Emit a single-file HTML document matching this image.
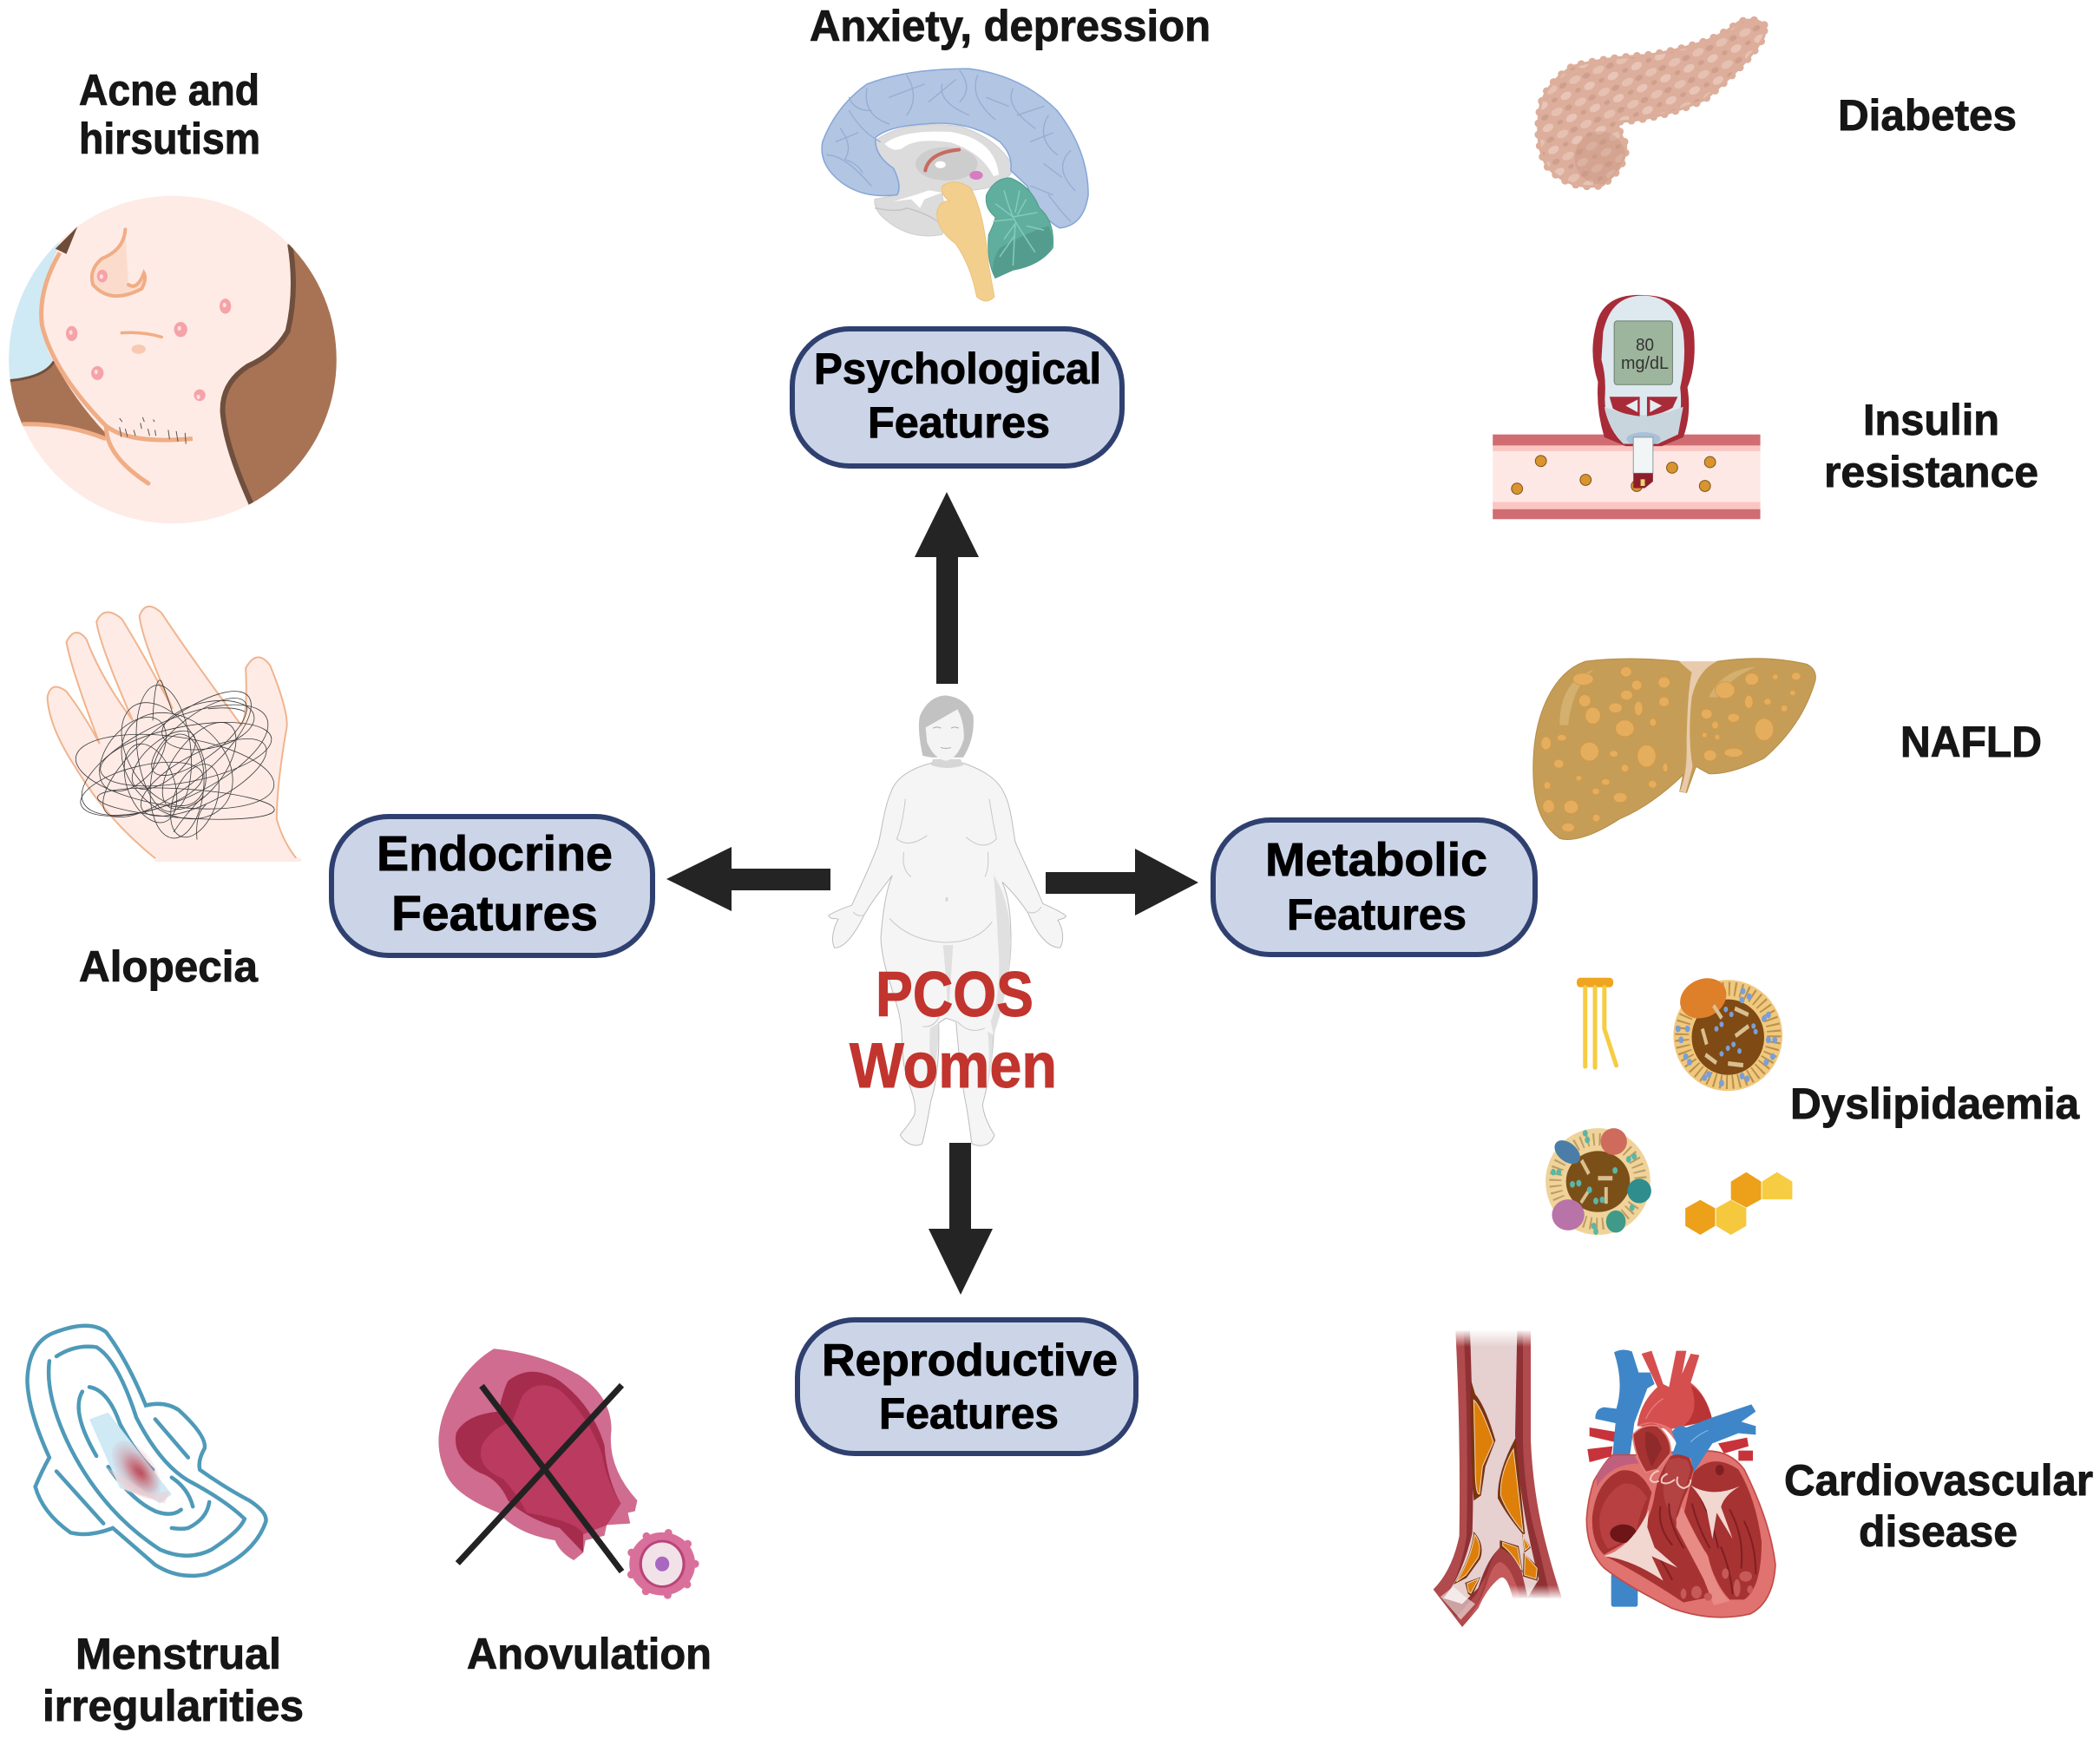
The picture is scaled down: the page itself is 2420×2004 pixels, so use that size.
<!DOCTYPE html>
<html><head><meta charset="utf-8"><title>PCOS Women features</title>
<style>
html,body{margin:0;padding:0;background:#fff}
svg{display:block}
text{font-family:"Liberation Sans",Arial,sans-serif;font-weight:700}
.l{font-size:50px;fill:#161616;stroke:#161616;stroke-width:.9px}
.b{fill:#000;stroke:#000;stroke-width:.9px}
.p{fill:#c1352e;stroke:#c1352e;stroke-width:1px}
.n *{vector-effect:non-scaling-stroke}
</style></head><body>
<svg width="2420" height="2004" viewBox="0 0 2420 2004" xmlns="http://www.w3.org/2000/svg">
<defs>
<clipPath id="cf"><ellipse cx="390" cy="619" rx="370" ry="282"/></clipPath>
<linearGradient id="fadeTop" x1="0" y1="0" x2="0" y2="1"><stop offset="0" stop-color="#fff" stop-opacity="1"/><stop offset="1" stop-color="#fff" stop-opacity="0"/></linearGradient>
<linearGradient id="fadeBot" x1="0" y1="0" x2="0" y2="1"><stop offset="0" stop-color="#fff" stop-opacity="0"/><stop offset="1" stop-color="#fff" stop-opacity="1"/></linearGradient>
<radialGradient id="blood"><stop offset="0" stop-color="#b8404f" stop-opacity=".8"/><stop offset="1" stop-color="#d88a92" stop-opacity=".08"/></radialGradient>
<pattern id="bumps" width="58" height="42" patternUnits="userSpaceOnUse" patternTransform="rotate(-18)">
<rect width="58" height="42" fill="#dcae9b"/>
<ellipse cx="14" cy="10" rx="13" ry="7" fill="#e8c5b6"/><ellipse cx="43" cy="31" rx="14" ry="7" fill="#e6c0b0"/><ellipse cx="44" cy="9" rx="7" ry="4" fill="#cf9f8d"/><ellipse cx="13" cy="32" rx="9" ry="5" fill="#cf9f8d"/>
</pattern>
<clipPath id="pc"><path d="M780 45Q760 30 720 40Q690 60 640 75Q560 95 500 100Q400 105 330 120Q270 150 255 190Q240 260 270 300Q320 345 400 335Q460 300 455 260Q430 225 440 220Q540 215 640 180Q750 110 780 65Z"/></clipPath>
</defs>
<rect width="2420" height="2004" fill="#fff"/>

<!-- ACNE + HAND -->
<g class="n" transform="scale(.5102,.6696)">
<ellipse cx="390" cy="619" rx="370" ry="282" fill="#feebe6"/>
<g clip-path="url(#cf)">
<path d="M135 420Q85 500 95 560Q105 610 122 622Q100 645 20 655L0 655L0 380Z" fill="#cfe9f5"/>
<path d="M20 655Q100 650 122 622Q170 690 238 745L238 758Q150 730 50 730L15 725Z" fill="#a87355"/>
<path d="M20 655Q100 650 122 622" fill="none" stroke="#6f4f3d" stroke-width="3"/>
<path d="M125 428L175 390L150 437Z" fill="#6e4c3a"/>
<path d="M655 420Q672 500 650 570Q620 610 560 630Q500 660 503 710Q510 770 568 868L800 910L800 380Z" fill="#a87355"/>
<path d="M655 420Q672 500 650 570Q620 610 560 630Q500 660 503 710Q510 770 568 868" fill="none" stroke="#6f4f3d" stroke-width="6"/>
<path d="M135 435Q85 500 95 560Q120 640 238 732Q290 765 435 755" fill="none" stroke="#f0ad85" stroke-width="5"/>
<path d="M240 735Q240 785 335 832" fill="none" stroke="#f0ad85" stroke-width="5" stroke-linecap="round"/>
<path d="M50 730Q150 728 238 755" fill="none" stroke="#f0ad85" stroke-width="5"/>
</g>
<path d="M283 395Q280 430 230 445Q200 465 210 490Q250 525 320 497Q332 480 325 470Q310 500 290 490" fill="#fbdccc" stroke="#f0ad85" stroke-width="4" stroke-linecap="round"/>
<path d="M275 573Q320 570 365 580" fill="none" stroke="#f0ad85" stroke-width="3.5" stroke-linecap="round"/>
<ellipse cx="313" cy="601" rx="16" ry="8" fill="#f8c9b0"/>
<g fill="#f5a3a8"><ellipse cx="231" cy="475" rx="12" ry="11"/><ellipse cx="509" cy="527" rx="13" ry="13"/><ellipse cx="408" cy="567" rx="15" ry="13"/><ellipse cx="162" cy="574" rx="13" ry="13"/><ellipse cx="220" cy="642" rx="14" ry="12"/><ellipse cx="451" cy="680" rx="13" ry="10"/></g>
<g fill="#fde0e0"><circle cx="229" cy="476" r="4"/><circle cx="507" cy="525" r="4"/><circle cx="405" cy="565" r="4"/><circle cx="160" cy="572" r="4"/><circle cx="217" cy="640" r="4"/><circle cx="448" cy="683" r="4"/></g>
<g stroke="#555" stroke-width="1" fill="none"><path d="M270 735L274 752M283 738L288 752M302 740L306 750M317 728L320 738M334 738L338 750M322 718L326 726M346 722L349 726M350 740L352 750M270 720L276 726M380 740L383 756M398 742L402 760M418 745L420 764"/></g>

<path d="M355 1480Q240 1410 170 1320Q110 1250 107 1200Q115 1170 150 1190Q190 1230 225 1280Q160 1150 150 1105Q170 1075 195 1100Q230 1170 300 1240Q225 1110 218 1070Q235 1040 275 1065Q320 1120 390 1220Q320 1100 315 1060Q330 1030 365 1055Q430 1130 545 1248Q560 1230 555 1150Q580 1115 610 1145Q650 1220 648 1250Q625 1350 625 1410Q640 1450 672 1480Z" fill="#feebe6" stroke="#f0b48e" stroke-width="2"/>
<rect x="350" y="1477" width="330" height="6" fill="#feebe6"/>
<g fill="none" stroke="#3a3a3a" stroke-width=".8" transform="translate(0,8)">
<ellipse cx="395" cy="1300" rx="220" ry="70" transform="rotate(-18 395 1300)"/>
<ellipse cx="400" cy="1290" rx="190" ry="60" transform="rotate(-30 400 1290)"/>
<ellipse cx="395" cy="1320" rx="225" ry="60" transform="rotate(6 395 1320)"/>
<ellipse cx="420" cy="1290" rx="195" ry="48" transform="rotate(-8 420 1290)"/>
<ellipse cx="370" cy="1290" rx="110" ry="70" transform="rotate(40 370 1290)"/>
<ellipse cx="370" cy="1280" rx="60" ry="110" transform="rotate(-10 370 1280)"/>
<ellipse cx="400" cy="1310" rx="130" ry="85" transform="rotate(20 400 1310)"/>
<ellipse cx="450" cy="1260" rx="120" ry="40" transform="rotate(-28 450 1260)"/>
<ellipse cx="460" cy="1330" rx="150" ry="45" transform="rotate(-20 460 1330)"/>
<ellipse cx="320" cy="1350" rx="140" ry="40" transform="rotate(-10 320 1350)"/>
<ellipse cx="420" cy="1375" rx="200" ry="25" transform="rotate(3 420 1375)"/>
<ellipse cx="440" cy="1370" rx="45" ry="70" transform="rotate(35 440 1370)"/>
<ellipse cx="300" cy="1290" rx="85" ry="50" transform="rotate(-35 300 1290)"/>
<ellipse cx="470" cy="1240" rx="105" ry="40" transform="rotate(-8 470 1240)"/>
<ellipse cx="400" cy="1345" rx="60" ry="90" transform="rotate(8 400 1345)"/>
<ellipse cx="340" cy="1340" rx="50" ry="75" transform="rotate(-35 340 1340)"/>
<ellipse cx="450" cy="1310" rx="50" ry="100" transform="rotate(50 450 1310)"/>
<ellipse cx="370" cy="1300" rx="80" ry="35" transform="rotate(-30 370 1300)"/>
<path d="M345 1232Q350 1150 365 1165Q380 1195 390 1220M445 1437Q440 1392 465 1377M392 1424Q420 1392 460 1362M470 1212Q530 1207 553 1217"/>
</g>
</g>

<!-- BRAIN -->
<g transform="translate(800,0) scale(.5102)">
<path d="M405 320Q470 270 600 285Q690 315 722 380Q710 410 660 425L560 440Q572 500 560 530Q480 545 420 485Q405 465 408 450L460 440Q470 420 450 380Q405 350 405 320Z" fill="#dcdcdc" stroke="#cfcfcf" stroke-width="2"/>
<path d="M430 325Q470 292 580 298Q680 315 688 395L676 398Q650 345 580 322Q500 310 470 335Q450 345 430 325Z" fill="#fff"/>
<ellipse cx="570" cy="370" rx="70" ry="38" fill="#cdcdcd"/>
<ellipse cx="556" cy="372" rx="12" ry="8" fill="#fff"/>
<path d="M522 385Q530 345 598 338" fill="none" stroke="#c96a60" stroke-width="8" stroke-linecap="round"/>
<ellipse cx="637" cy="396" rx="15" ry="10" fill="#d77cc0"/>
<path d="M450 455L500 440L530 430L560 435L520 450L510 470L490 450Z" fill="#fff"/>
<path d="M408 470Q460 480 480 470Q520 480 550 500" fill="none" stroke="#c4c4c4" stroke-width="3"/>
<path d="M290 320Q320 240 390 190Q480 155 620 155Q740 170 820 250Q890 340 890 440Q880 510 825 515Q780 490 752 420L715 385Q720 350 690 320Q620 270 520 280Q440 285 410 310Q405 350 450 380Q470 420 458 440Q380 450 330 410Q280 370 290 320Z" fill="#b2c5e2" stroke="#86a6d8" stroke-width="3" stroke-linejoin="round"/>
<g fill="none" stroke="#95acd2" stroke-width="2.5" stroke-linecap="round"><path d="M330 290Q360 330 340 360Q370 370 380 390M390 200Q380 260 440 280M480 170Q510 220 480 260M440 220L520 190M560 190Q550 230 620 260M530 230L590 180M640 170Q620 220 680 270M660 220L710 240M720 200Q700 240 770 290M730 260L790 240M800 260Q770 310 820 350M760 320L810 300M850 340Q810 380 860 430M790 370L830 400M800 440Q830 480 850 500M760 420L810 440M300 350Q340 350 400 420M420 320Q380 300 350 250M600 160Q630 200 600 230M350 220Q360 250 400 250M320 320L370 300"/></g>
<path d="M560 420Q590 400 625 425Q655 480 665 600L678 670Q660 690 638 670Q625 600 590 550Q548 520 548 480Q555 450 578 455Q555 440 560 420Z" fill="#f3cf8e" stroke="#ecc27c" stroke-width="2"/>
<path d="M660 440Q680 400 715 402Q760 420 780 470Q815 500 810 560Q780 600 720 610L680 628Q660 590 665 530Q680 500 680 490Q655 470 660 440Z" fill="#5fae9e" stroke="#4f9c8c" stroke-width="2"/>
<path d="M690 560Q740 530 800 510Q815 540 805 565Q775 600 720 610L680 628Q665 600 690 560Z" fill="#549d8e"/>
<g fill="none" stroke="#86cabb" stroke-width="3"><path d="M700 430Q710 470 725 500Q750 540 770 570M680 460L720 490L775 480M700 540L725 505L720 600M690 580L725 530M735 430L725 480M750 450L730 485M675 500L720 495M750 510L790 520"/></g>
</g>

<!-- BOXES -->
<g fill="#ccd5e8" stroke="#2f4070" stroke-width="6">
<rect x="913" y="379" width="380" height="158" rx="66"/>
<rect x="382" y="941" width="370" height="160" rx="66"/>
<rect x="1398" y="945" width="371" height="155" rx="66"/>
<rect x="919" y="1521" width="390" height="154" rx="66"/>
</g>
<g class="b">
<text x="938" y="442" font-size="50" textLength="331" lengthAdjust="spacingAndGlyphs">Psychological</text>
<text x="1000" y="504" font-size="50" textLength="210" lengthAdjust="spacingAndGlyphs">Features</text>
<text x="434" y="1003" font-size="57" textLength="272" lengthAdjust="spacingAndGlyphs">Endocrine</text>
<text x="451" y="1072" font-size="57" textLength="238" lengthAdjust="spacingAndGlyphs">Features</text>
<text x="1458" y="1009" font-size="54" textLength="256" lengthAdjust="spacingAndGlyphs">Metabolic</text>
<text x="1483" y="1071" font-size="50" textLength="207" lengthAdjust="spacingAndGlyphs">Features</text>
<text x="947" y="1585" font-size="52" textLength="341" lengthAdjust="spacingAndGlyphs">Reproductive</text>
<text x="1013" y="1646" font-size="50" textLength="207" lengthAdjust="spacingAndGlyphs">Features</text>
</g>

<!-- ARROWS -->
<g fill="#242424">
<path d="M1079 788V642H1054L1091 567L1128 642H1104V788Z"/>
<path d="M957 1001V1026H843V1050L768 1013L843 976V1001Z"/>
<path d="M1205 1005V1030H1308V1055L1381 1017L1308 978V1005Z"/>
<path d="M1094 1317H1119V1416H1144L1107 1492L1070 1416H1094Z"/>
</g>

<!-- BODY -->
<g class="n" transform="translate(900,760) scale(.33333,.3827)">
<path d="M520 312C440 330 395 360 380 400C355 450 350 510 335 560C300 640 270 690 245 740C210 750 185 760 165 770C170 785 185 778 198 782C180 810 172 845 185 868C220 870 260 820 287 770C320 720 350 690 385 650C360 700 350 780 345 840C350 920 385 990 400 1040C425 1110 415 1170 425 1220C440 1290 470 1320 462 1370C445 1400 420 1420 412 1432C430 1460 465 1470 488 1458C505 1400 510 1370 518 1330C540 1270 548 1190 545 1095L570 1080L605 1090C615 1190 625 1280 640 1340C650 1390 655 1430 660 1458C690 1470 725 1465 738 1432C715 1400 700 1370 697 1340C715 1280 730 1220 735 1130C760 1040 795 950 795 850C795 780 790 720 765 670C800 700 830 730 855 765C880 820 920 868 965 868C980 845 975 810 957 785C970 780 985 780 985 772C960 755 930 745 905 735C880 680 840 610 810 550C800 500 795 440 770 400C745 355 690 330 630 312Z" fill="#f5f5f5" stroke="#bcbcbc" stroke-width="1"/>
<path d="M735 650Q790 720 795 850Q790 1000 735 1130L725 1090Q765 1000 750 850Q745 740 735 650Z" fill="#e0e0e0"/>
<path d="M560 860L595 860L578 1080Q570 940 560 860ZM515 1110L545 1095Q545 1180 525 1260Q510 1190 515 1110ZM715 1120L732 1130Q732 1230 710 1300Q725 1210 715 1120Z" fill="#e0e0e0"/>
<path d="M525 300L620 300L632 318Q575 335 518 318Z" fill="#d6d6d6"/>
<g fill="none" stroke="#c8c8c8" stroke-width="1"><path d="M430 420Q420 500 400 540Q440 570 505 530M720 420Q735 500 745 540Q700 580 640 535M425 580Q415 630 450 655M715 580Q720 630 705 655M375 780Q450 850 575 852Q680 850 730 790M550 1070Q530 1110 490 1105M610 1090Q650 1130 705 1110M285 770Q260 775 250 760M855 760Q880 770 900 745"/></g>
<ellipse cx="573" cy="722" rx="5" ry="7" fill="#d8d8d8"/>
<path d="M490 290Q470 210 480 170Q510 110 570 108Q640 115 665 170Q670 230 640 280L630 295L520 295Z" fill="#c2c2c2"/>
<path d="M500 205Q540 185 610 150Q635 190 632 240Q610 300 570 305Q530 300 505 250Z" fill="#f4f4f4"/>
<g fill="none" stroke="#a9a9a9" stroke-width="1"><path d="M525 207Q540 200 553 207M588 207Q600 200 615 207M552 265Q570 270 588 265"/></g>
</g>

<!-- PCOS -->
<g class="p">
<text x="1009" y="1171" font-size="73" textLength="182" lengthAdjust="spacingAndGlyphs">PCOS</text>
<text x="979" y="1253" font-size="73" textLength="239" lengthAdjust="spacingAndGlyphs">Women</text>
</g>

<!-- PANCREAS, METER, LIVER -->
<g class="n" transform="translate(1650,0) scale(.491,.6378)">
<path d="M780 45Q760 30 720 40Q690 60 640 75Q560 95 500 100Q400 105 330 120Q270 150 255 190Q240 260 270 300Q320 345 400 335Q460 300 455 260Q430 225 440 220Q540 215 640 180Q750 110 780 65Z" fill="none" stroke="#dcae9b" stroke-width="9" stroke-dasharray="0 13" stroke-linecap="round"/>
<path d="M780 45Q760 30 720 40Q690 60 640 75Q560 95 500 100Q400 105 330 120Q270 150 255 190Q240 260 270 300Q320 345 400 335Q460 300 455 260Q430 225 440 220Q540 215 640 180Q750 110 780 65Z" fill="url(#bumps)" stroke="#dcae9b" stroke-width="3"/>
<g clip-path="url(#pc)"><ellipse cx="395" cy="285" rx="60" ry="48" fill="#c99583" opacity=".4"/></g>

<rect x="143" y="785" width="628" height="153" fill="#fde8e6"/>
<rect x="143" y="785" width="628" height="20" fill="#cf6d72"/><rect x="143" y="805" width="628" height="10" fill="#fbc6c2"/>
<rect x="143" y="907" width="628" height="13" fill="#fbc6c2"/><rect x="143" y="920" width="628" height="18" fill="#cf6d72"/>
<path d="M385 590Q400 530 495 533Q600 535 615 600Q622 660 600 700Q610 750 590 790L540 806L455 806L405 790Q385 740 390 690Q368 640 385 590Z" fill="#a82b38"/>
<path d="M402 600Q420 534 495 534Q570 534 590 600Q598 650 583 700Q590 750 570 785L530 802L450 802Q406 770 406 720Q410 680 398 650Z" fill="#dde8ef"/>
<path d="M405 735Q497 765 590 735L578 785L530 802L450 802Q412 770 405 735Z" fill="#c9d5dc"/>
<rect x="428" y="580" width="137" height="115" rx="6" fill="#9db59c" stroke="#6f806f" stroke-width="1"/>
<path d="M417 717L488 717L488 752Q445 748 425 738Z M505 717L577 717L565 737Q540 748 505 752Z" fill="#a82b38"/>
<path d="M455 733L483 722V745Z M512 722L540 733L512 745Z" fill="#e4edf2"/>
<ellipse cx="497" cy="793" rx="40" ry="12" fill="#a8c0d8"/>
<g fill="#d9942e" stroke="#7a5317" stroke-width="1"><ellipse cx="256" cy="833" rx="13" ry="10"/><ellipse cx="361" cy="867" rx="13" ry="10"/><ellipse cx="200" cy="883" rx="13" ry="10"/><ellipse cx="481" cy="878" rx="13" ry="10"/><ellipse cx="564" cy="845" rx="13" ry="10"/><ellipse cx="653" cy="835" rx="13" ry="10"/><ellipse cx="641" cy="878" rx="13" ry="10"/></g>
<rect x="473" y="790" width="46" height="65" fill="#f2f5f5" stroke="#8d9a9f" stroke-width="1"/>
<path d="M473 855H519V870L500 882H473Z" fill="#8c1f2b"/><rect x="490" y="866" width="10" height="12" fill="#e8d66d"/>

<path d="M238 1380C240 1290 285 1215 360 1195Q460 1185 580 1195L610 1210L670 1195Q780 1182 880 1200Q905 1210 900 1230Q870 1310 780 1370Q700 1400 650 1398L620 1385L598 1432L582 1430L590 1400C550 1430 500 1460 440 1480C380 1510 330 1522 300 1515C255 1490 236 1450 238 1380Z" fill="#c69d56" stroke="#b58c45" stroke-width="1"/>
<path d="M580 1195L670 1195Q625 1210 610 1260Q600 1330 612 1385L596 1432L582 1430Q600 1400 598 1340Q600 1250 610 1215Z" fill="#e8cbac"/>
<path d="M300 1310Q300 1230 380 1210Q330 1240 320 1310ZM650 1260Q680 1210 760 1205Q700 1225 670 1260Z" fill="#d4b06f"/>
<g fill="#e5ae5e" stroke="#d39a48" stroke-width="1">
<ellipse cx="355" cy="1227" rx="24" ry="11"/><ellipse cx="456" cy="1214" rx="13" ry="9"/><ellipse cx="545" cy="1233" rx="14" ry="10"/><ellipse cx="481" cy="1238" rx="12" ry="9"/><ellipse cx="359" cy="1266" rx="14" ry="11"/><ellipse cx="378" cy="1293" rx="18" ry="15"/><ellipse cx="431" cy="1279" rx="16" ry="9"/><ellipse cx="457" cy="1256" rx="14" ry="9"/><ellipse cx="545" cy="1268" rx="12" ry="9"/><ellipse cx="485" cy="1280" rx="10" ry="13"/><ellipse cx="453" cy="1316" rx="22" ry="15"/><ellipse cx="519" cy="1305" rx="8" ry="7"/><ellipse cx="370" cy="1358" rx="22" ry="17"/><ellipse cx="504" cy="1366" rx="22" ry="20"/><ellipse cx="268" cy="1343" rx="12" ry="12"/><ellipse cx="305" cy="1333" rx="11" ry="6"/><ellipse cx="427" cy="1362" rx="10" ry="6"/><ellipse cx="298" cy="1380" rx="12" ry="8"/><ellipse cx="453" cy="1388" rx="9" ry="7"/><ellipse cx="408" cy="1413" rx="10" ry="6"/><ellipse cx="271" cy="1419" rx="8" ry="7"/><ellipse cx="345" cy="1406" rx="7" ry="5"/><ellipse cx="442" cy="1441" rx="16" ry="9"/><ellipse cx="518" cy="1417" rx="10" ry="7"/><ellipse cx="385" cy="1430" rx="9" ry="6"/><ellipse cx="274" cy="1457" rx="14" ry="12"/><ellipse cx="327" cy="1458" rx="17" ry="12"/><ellipse cx="386" cy="1478" rx="9" ry="7"/><ellipse cx="320" cy="1495" rx="15" ry="8"/><ellipse cx="548" cy="1387" rx="6" ry="8"/>
<ellipse cx="688" cy="1247" rx="23" ry="15"/><ellipse cx="751" cy="1227" rx="16" ry="11"/><ellipse cx="806" cy="1223" rx="7" ry="5"/><ellipse cx="855" cy="1222" rx="11" ry="7"/><ellipse cx="847" cy="1252" rx="7" ry="5"/><ellipse cx="788" cy="1268" rx="9" ry="6"/><ellipse cx="744" cy="1268" rx="10" ry="12"/><ellipse cx="827" cy="1280" rx="8" ry="6"/><ellipse cx="645" cy="1290" rx="13" ry="9"/><ellipse cx="708" cy="1297" rx="14" ry="8"/><ellipse cx="780" cy="1318" rx="22" ry="20"/><ellipse cx="665" cy="1310" rx="8" ry="7"/><ellipse cx="670" cy="1332" rx="6" ry="5"/><ellipse cx="640" cy="1328" rx="6" ry="5"/><ellipse cx="653" cy="1365" rx="15" ry="10"/><ellipse cx="708" cy="1360" rx="22" ry="8"/>
</g>
</g>

<!-- LIPIDS -->
<g class="n" transform="translate(1650,1000) scale(.491,.64)">
<rect x="340" y="198" width="86" height="17" rx="8" fill="#efa51f"/>
<g fill="none" stroke="#f6cc42" stroke-width="5" stroke-linecap="round"><path d="M360 215V358M383 215V360M405 215V290L433 356"/></g>
<ellipse cx="695" cy="302" rx="128" ry="100" fill="#efc97e"/>
<ellipse cx="695" cy="302" rx="108" ry="84" fill="none" stroke="#bd8f4c" stroke-width="16" stroke-dasharray="2 5"/>
<ellipse cx="695" cy="305" rx="85" ry="68" fill="#7f4a14"/>
<ellipse cx="637" cy="235" rx="55" ry="35" fill="#de7f2a" transform="rotate(-12 637 235)"/>
<g fill="#d9bf8f"><rect x="655" y="255" width="30" height="8" transform="rotate(50 670 260)"/><rect x="710" y="290" width="36" height="8" transform="rotate(-30 728 294)"/><rect x="640" y="340" width="30" height="8" transform="rotate(30 655 344)"/><rect x="695" y="350" width="36" height="8" transform="rotate(5 713 354)"/><rect x="710" y="255" width="34" height="8" transform="rotate(20 727 259)"/><rect x="625" y="300" width="30" height="8" transform="rotate(70 640 304)"/></g>
<g fill="#7a9fd8"><circle cx="690" cy="255" r="5"/><circle cx="703" cy="264" r="5"/><circle cx="668" cy="290" r="5"/><circle cx="680" cy="282" r="5"/><circle cx="695" cy="325" r="5"/><circle cx="708" cy="318" r="5"/><circle cx="722" cy="330" r="5"/><circle cx="760" cy="295" r="5"/><circle cx="755" cy="285" r="5"/><circle cx="680" cy="335" r="5"/><circle cx="730" cy="222" r="6"/><circle cx="745" cy="232" r="6"/><circle cx="728" cy="238" r="6"/><circle cx="790" cy="265" r="6"/><circle cx="780" cy="272" r="6"/><circle cx="805" cy="310" r="6"/><circle cx="790" cy="310" r="6"/><circle cx="785" cy="350" r="6"/><circle cx="800" cy="340" r="6"/><circle cx="740" cy="380" r="6"/><circle cx="728" cy="375" r="6"/><circle cx="680" cy="388" r="6"/><circle cx="640" cy="378" r="6"/><circle cx="650" cy="372" r="6"/><circle cx="605" cy="350" r="6"/><circle cx="596" cy="340" r="6"/><circle cx="585" cy="310" r="6"/><circle cx="578" cy="290" r="6"/><circle cx="600" cy="290" r="6"/></g>

<ellipse cx="390" cy="565" rx="123" ry="96" fill="#efd39a"/>
<ellipse cx="390" cy="565" rx="100" ry="76" fill="none" stroke="#bd9d62" stroke-width="14" stroke-dasharray="2 5"/>
<ellipse cx="390" cy="565" rx="75" ry="55" fill="#7b5018"/>
<ellipse cx="427" cy="493" rx="31" ry="24" fill="#cf6b5c"/><ellipse cx="318" cy="512" rx="32" ry="18" fill="#4a7ea8" transform="rotate(25 318 512)"/><ellipse cx="487" cy="582" rx="28" ry="22" fill="#2f8d8e"/><ellipse cx="320" cy="625" rx="38" ry="28" fill="#b873a8"/><ellipse cx="432" cy="637" rx="23" ry="20" fill="#3f9a8a"/>
<g fill="#d9bf8f"><rect x="345" y="535" width="30" height="8" transform="rotate(55 360 539)"/><rect x="390" y="555" width="34" height="8"/><rect x="405" y="575" width="8" height="30"/><rect x="345" y="590" width="26" height="7" transform="rotate(-50 358 593)"/></g>
<g fill="#59b7a6"><circle cx="330" cy="570" r="6"/><circle cx="345" cy="568" r="6"/><circle cx="370" cy="580" r="6"/><circle cx="385" cy="600" r="6"/><circle cx="400" cy="598" r="6"/><circle cx="430" cy="545" r="6"/><circle cx="365" cy="490" r="6"/><circle cx="360" cy="478" r="6"/><circle cx="475" cy="520" r="6"/><circle cx="462" cy="525" r="6"/><circle cx="285" cy="548" r="6"/><circle cx="298" cy="548" r="6"/><circle cx="380" cy="645" r="6"/><circle cx="385" cy="655" r="6"/><circle cx="470" cy="612" r="6"/></g>
<path d="M595 613L630 598L665 613V645L630 661L595 645Z" fill="#eda01a"/><path d="M667 613L702 598L738 613V645L702 661L667 645Z" fill="#f5c83e"/><path d="M702 565L738 548L773 565V597L738 612L702 597Z" fill="#eda01a"/><path d="M775 565L810 548L846 565V597H775Z" fill="#f6cc42"/>
</g>

<!-- ARTERY + HEART -->
<g transform="translate(1640,1520) scale(.33333)">
<path d="M112 40H372V420Q380 600 420 760Q450 880 480 965H360Q330 870 265 895Q220 930 190 1000L135 1065L35 935Q100 870 125 750Q130 400 112 40Z" fill="#b04a4c"/>
<path d="M140 40H345V420Q350 620 395 770L440 965H380Q340 840 270 825Q225 860 185 950L115 1030L70 970Q130 890 150 750Q158 400 140 40Z" fill="#8f3134"/>
<path d="M162 40H325L318 400Q335 650 400 900L360 965H345Q310 830 268 790Q225 820 190 930L135 985L70 965Q135 890 170 740Q178 500 162 40Z" fill="#e6d0d0"/>
<path d="M135 1065Q190 1000 215 900Q240 810 270 785L335 850L362 965H310Q290 880 265 895Q220 930 190 1000Z" fill="#a63f42"/>
<path d="M150 1040Q200 980 225 900Q245 840 268 840Q310 860 335 965H310Q290 880 265 895Q220 930 190 1000Z" fill="#c45a5c"/>
<g fill="#7a3310"><path d="M165 210L180 260Q215 300 250 420L215 510L200 610L175 628Q160 400 165 210Z"/><path d="M320 410L352 742L345 745Q290 680 258 620Q255 530 320 410Z"/><path d="M175 735Q215 780 197 830L150 895L105 918Q165 830 175 735Z"/><path d="M145 912L198 892L168 960L155 950Z"/><path d="M265 765L330 785L345 880Q310 810 265 790Z"/><path d="M342 745L372 790L350 808Z"/><path d="M347 808L400 860L395 905L345 890Z"/></g>
<g fill="#de7f0a" stroke="#eed7b5" stroke-width="3"><path d="M175 280Q200 300 243 425L205 510L195 605Q180 610 180 500Z"/><path d="M312 450L345 735Q290 670 268 610Q265 530 312 450Z"/><path d="M178 745Q205 780 190 825L148 885L115 908Q165 830 178 745Z"/><path d="M152 915L192 898L165 948L157 943Z"/><path d="M275 772L326 790L340 868Q310 810 275 784Z"/><path d="M345 752L367 788L352 800Z"/><path d="M352 815L394 862L390 898L350 885Z"/></g>
<rect x="100" y="36" width="285" height="60" fill="url(#fadeTop)"/>
<rect x="300" y="920" width="190" height="50" fill="url(#fadeBot)"/>
<path d="M30 935L135 1065L120 1075L20 950Z" fill="#fff" opacity=".8"/>
<path d="M60 960L130 1040L180 985L145 960L105 925Z" fill="#fff" opacity=".55"/>

<path d="M575 375L665 390L660 425L575 405ZM568 450L655 440L650 475L575 495ZM1020 430L1120 410L1125 440L1040 465ZM1090 455H1140V490H1090Z" fill="#c8323a"/>
<rect x="650" y="880" width="92" height="115" rx="8" fill="#3f86c8"/>
<path d="M755 120L790 110L830 225L850 235L875 110L910 110L895 190L925 120L955 125L925 220Q980 260 1000 350L860 380L740 370Q750 290 810 235Z" fill="#d64f4f"/>
<path d="M925 230Q980 260 1000 350L900 370Q960 320 925 230Z" fill="#b93535"/>
<path d="M660 115Q690 100 722 112L745 185L785 185L800 225L775 240L730 360L715 470L655 470L665 360L595 345Q595 310 625 305L668 310Q695 220 660 115Z" fill="#3f86c8"/>
<path d="M590 560Q630 490 655 470L730 470L860 460L940 460Q1050 440 1110 520Q1200 700 1218 850Q1210 980 1130 1020Q1000 1050 860 1000Q700 920 625 860Q565 800 565 690Q570 620 590 560Z" fill="#e0736f" stroke="#c14b48" stroke-width="5"/>
<path d="M600 540Q630 490 655 472L730 472L745 500Q650 500 600 580Z" fill="#c0607e"/>
<path d="M585 680Q600 560 680 525Q750 510 790 600L770 680Q760 720 740 750L625 815Q580 770 585 680Z" fill="#a63232"/>
<path d="M610 680Q630 600 690 570Q740 560 775 620Q750 660 735 750L640 795Q605 750 610 680Z" fill="#b84040"/>
<ellipse cx="692" cy="742" rx="46" ry="32" fill="#6e1518"/>
<path d="M725 400Q760 360 810 370Q860 410 855 465L810 520L770 530Q730 470 725 400Z" fill="#a63232" stroke="#e0837e" stroke-width="5"/>
<path d="M770 390Q810 390 825 450L790 510Q760 450 770 390Z" fill="#8f2a2a"/>
<path d="M740 370Q790 340 860 380L870 420Q840 370 790 360Z" fill="#e8736f"/>
<path d="M860 390Q880 360 910 375L1000 340L1135 295L1150 320L1100 355L1150 370L1150 400L1090 395L1000 430L935 530L925 480L860 470L875 430Z" fill="#3f86c8"/>
<path d="M935 530Q1000 460 1090 520Q1150 620 1170 770Q1170 930 1110 970L1060 970Q1010 920 980 810Q930 750 900 680L920 590Z" fill="#a63232"/>
<path d="M800 610Q810 540 855 475Q880 460 920 480L935 520L915 590Q880 660 875 720L970 900L1000 960L900 980Q750 880 630 820L740 760Q790 680 800 610Z" fill="#a63232"/>
<path d="M845 490Q880 470 915 490L925 520L905 590Q880 650 870 700Q830 640 830 590Q830 530 845 490Z" fill="#b34242"/>
<path d="M875 690L895 650Q940 750 985 820Q1010 930 1060 975L1005 990L970 900Q910 780 875 720Z" fill="#e88a85"/>
<g fill="none" stroke="#7f1f22" stroke-width="6" stroke-linecap="round"><path d="M820 650Q810 720 860 780M850 640Q850 710 900 790M760 770Q810 800 860 900M930 640Q950 720 990 790M960 620Q1000 700 1020 790M1060 660Q1110 750 1100 860M1030 790Q1060 860 1070 950M1110 700Q1150 780 1150 880"/></g>
<g fill="#c55a58"><ellipse cx="1115" cy="890" rx="22" ry="18"/><ellipse cx="1085" cy="930" rx="12" ry="30"/><ellipse cx="1045" cy="880" rx="12" ry="18"/><ellipse cx="945" cy="945" rx="18" ry="22"/><ellipse cx="900" cy="950" rx="10" ry="18"/><ellipse cx="985" cy="960" rx="14" ry="14"/><ellipse cx="1130" cy="935" rx="10" ry="14"/></g>
<path d="M925 575Q1000 620 1095 578Q1040 610 1030 650L1070 760L1015 670L1000 760L980 660Q960 610 925 575Z" fill="#f2d6d0"/>
<path d="M625 820Q720 790 780 660L775 720L800 790L880 860L790 820L830 905Q720 830 625 820Z" fill="#f2d6d0"/>
<g fill="none" stroke="#f0c8c0" stroke-width="6"><path d="M815 525Q790 530 785 555Q795 570 815 560M845 535Q820 545 825 565Q845 575 870 555M880 545Q870 575 900 585Q925 580 925 555"/></g>
<ellipse cx="1025" cy="522" rx="15" ry="18" fill="#7f1f22"/>
<g fill="none" stroke="#f08a85" stroke-width="3"><path d="M770 345Q790 300 830 275"/></g>
<path d="M925 425Q950 400 985 385" fill="none" stroke="#8ec0e8" stroke-width="3"/>
</g>

<!-- PAD, OVARY -->
<g class="n" transform="translate(0,1450) scale(.542,.3533)">
<g fill="none" stroke="#4e9ab8" stroke-linecap="round" stroke-width="4.5">
<path d="M58 400Q60 270 120 240Q190 200 225 240Q270 330 310 480Q350 465 380 495Q440 580 435 620Q420 660 425 690Q480 750 530 790Q570 830 565 860Q540 970 440 1030Q380 1050 330 1000L240 880Q190 910 150 895Q90 830 75 745Q90 690 105 650Q60 500 58 400Z"/>
<path d="M105 335Q95 450 150 620Q220 830 340 950Q400 990 450 950Q510 890 520 850Q480 790 400 725Q340 670 290 520Q250 330 205 290Q160 280 120 320"/>
<path d="M175 435Q150 500 205 645M190 420Q230 430 255 540Q290 640 325 690M230 680Q280 790 330 825Q365 845 385 820M365 715Q400 750 410 810M445 795Q440 850 400 880Q385 885 365 880M330 525L400 650M120 695L220 865"/>
</g>
<path d="M190 525L230 503L365 770L340 800L320 780L255 750Z" fill="#cfe9f5"/>
<ellipse cx="290" cy="690" rx="42" ry="100" fill="url(#blood)" transform="rotate(-20 290 690)"/>
<ellipse cx="300" cy="700" rx="30" ry="70" fill="url(#blood)" transform="rotate(-20 300 700)"/>
<path d="M225 680L320 770L360 760L350 800L270 760Z" fill="#f8c8c8" opacity=".5"/>

<path d="M1050 295Q1150 310 1230 380Q1300 450 1300 560Q1290 680 1355 790L1350 825L1335 830L1340 865L1290 870L1285 905L1245 920L1240 960L1220 985Q1190 960 1180 920Q1100 900 1060 830Q960 770 945 690Q920 600 945 500Q980 360 1050 295Z" fill="#cf6c90"/>
<path d="M1080 400Q1130 340 1190 400Q1260 480 1285 610Q1290 720 1320 800L1290 870L1240 900L1240 960L1190 880Q1120 850 1080 790Q1060 720 1020 700Q960 650 970 570Q990 510 1060 500Q1070 430 1080 400Z" fill="#a62c4d"/>
<path d="M1110 450Q1140 390 1190 430Q1250 510 1280 640Q1290 730 1320 800L1290 870L1240 900Q1230 860 1120 830Q1100 770 1070 720Q1010 680 1025 610Q1040 560 1090 530Z" fill="#bb3a60"/>
<g fill="none" stroke="#222" stroke-width="7"><path d="M1024 416L1322 1022M1322 414L973 995"/></g>
<ellipse cx="1408" cy="997" rx="70" ry="103" fill="#d9709b" stroke="#d9709b" stroke-width="9" stroke-dasharray="0 26" stroke-linecap="round"/>
<ellipse cx="1408" cy="997" rx="49" ry="78" fill="#b9447a"/>
<ellipse cx="1408" cy="997" rx="43" ry="70" fill="#f1e2e8"/>
<ellipse cx="1408" cy="997" rx="15" ry="24" fill="#a868c0"/>
</g>

<!-- METER TEXT -->
<g fill="#333">
<text x="1885" y="404" font-size="20" style="font-weight:400" textLength="21" lengthAdjust="spacingAndGlyphs">80</text>
<text x="1868" y="425" font-size="20" style="font-weight:400" textLength="55" lengthAdjust="spacingAndGlyphs">mg/dL</text>
</g>

<!-- LABELS -->
<g class="l">
<text x="933" y="47" textLength="462" lengthAdjust="spacingAndGlyphs">Anxiety, depression</text>
<text x="91" y="121" textLength="208" lengthAdjust="spacingAndGlyphs">Acne and</text>
<text x="91" y="177" textLength="209" lengthAdjust="spacingAndGlyphs">hirsutism</text>
<text x="91" y="1131" textLength="206" lengthAdjust="spacingAndGlyphs">Alopecia</text>
<text x="2118" y="150" textLength="206" lengthAdjust="spacingAndGlyphs">Diabetes</text>
<text x="2147" y="501" textLength="157" lengthAdjust="spacingAndGlyphs">Insulin</text>
<text x="2102" y="561" textLength="247" lengthAdjust="spacingAndGlyphs">resistance</text>
<text x="2190" y="872" textLength="163" lengthAdjust="spacingAndGlyphs">NAFLD</text>
<text x="2063" y="1289" textLength="333" lengthAdjust="spacingAndGlyphs">Dyslipidaemia</text>
<text x="2056" y="1723" textLength="356" lengthAdjust="spacingAndGlyphs">Cardiovascular</text>
<text x="2142" y="1782" textLength="183" lengthAdjust="spacingAndGlyphs">disease</text>
<text x="87" y="1923" textLength="237" lengthAdjust="spacingAndGlyphs">Menstrual</text>
<text x="49" y="1983" textLength="301" lengthAdjust="spacingAndGlyphs">irregularities</text>
<text x="538" y="1923" textLength="282" lengthAdjust="spacingAndGlyphs">Anovulation</text>
</g>
</svg>
</body></html>
